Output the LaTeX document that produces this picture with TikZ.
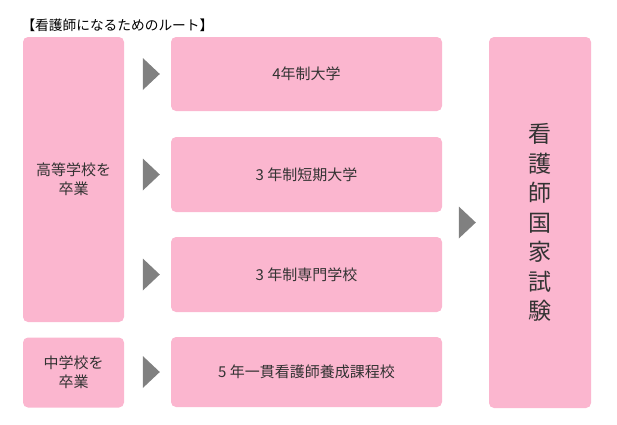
\documentclass[tikz,border=0pt]{standalone}
\usepackage{fontspec}
\setmainfont{Noto Sans CJK JP}
\definecolor{boxpink}{RGB}{251,182,207}
\definecolor{txtgray}{RGB}{51,51,51}
\definecolor{arrgray}{RGB}{128,128,128}
\begin{document}
\begin{tikzpicture}[x=1pt,y=-1pt,
  box/.style={fill=boxpink,rounded corners=5pt,inner sep=0pt,text=txtgray,align=center},
  lefttxt/.style={font=\fontsize{15}{18.5}\selectfont},
  midtxt/.style={font=\fontsize{15}{18}\selectfont},
  tri/.style={fill=arrgray}]
\useasboundingbox (0,0) rectangle (617,424);
\node[anchor=west,text=black,font=\fontsize{13.7}{16}\selectfont] (title) at (18,25) {【看護師になるためのルート】};
% left boxes
\node[box,lefttxt,minimum width=101pt,minimum height=285pt] (hs) at (73.5,179.5) {高等学校を\\卒業};
\node[box,lefttxt,minimum width=101pt,minimum height=70pt] (jhs) at (73.5,372.5) {中学校を\\卒業};
% middle boxes
\node[box,midtxt,minimum width=271pt,minimum height=74pt] (m1) at (306.5,74) {4年制大学};
\node[box,midtxt,minimum width=271pt,minimum height=75pt] (m2) at (306.5,174.5) {3 年制短期大学};
\node[box,midtxt,minimum width=271pt,minimum height=75pt] (m3) at (306.5,274.5) {3 年制専門学校};
\node[box,midtxt,minimum width=271pt,minimum height=70pt] (m4) at (306.5,372) {5 年一貫看護師養成課程校};
% right box
\node[box,minimum width=102pt,minimum height=371pt,font=\fontsize{23}{29.5}\selectfont] (exam) at (540,222.5) {看\\護\\師\\国\\家\\試\\験};
% triangles
\foreach \n in {m1,m2,m3,m4}{
  \path (\n.west) ++(-28,0) coordinate (t\n);
  \fill[tri] (t\n) ++(0,-16) -- ++(17,16) -- ++(-17,16) -- cycle;
}
\path (exam.west) ++(-30,0) coordinate (tex);
\fill[tri] (tex) ++(0,-16) -- ++(17,16) -- ++(-17,16) -- cycle;
\end{tikzpicture}
\end{document}
